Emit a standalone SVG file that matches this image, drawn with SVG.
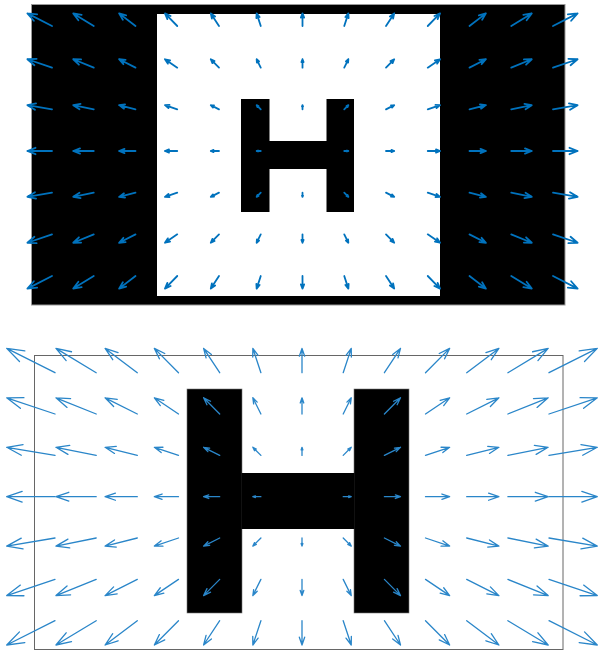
<svg xmlns="http://www.w3.org/2000/svg" xmlns:xlink="http://www.w3.org/1999/xlink" width="600" height="651" viewBox="0 0 600 651">
<style>
.ar{fill:none;stroke:#0072BD;stroke-linecap:round;stroke-linejoin:round;vector-effect:non-scaling-stroke}
#ta{stroke-width:1.8}
#ba{stroke-width:1.3;stroke:#2a86c9}
</style>
<defs>
<path id="ta" class="ar" d="M0,0H1M0.67,0.13L1,0L0.67,-0.13"/>
<path id="ba" class="ar" d="M0,0H1M0.68,0.11L1,0L0.68,-0.11"/>
</defs>
<rect width="600" height="651" fill="#fff"/>
<g id="top-panel">
<rect x="31.5" y="4.5" width="533.5" height="300.5" fill="#000" stroke="#999" stroke-width="1"/>
<rect x="157" y="14" width="283" height="282" fill="#fff"/>
<g id="top-H" fill="#000">
<rect x="241" y="99" width="28.5" height="113"/>
<rect x="326.5" y="99" width="27.5" height="113"/>
<rect x="269" y="141" width="58" height="28"/>
</g>
</g>
<g id="bottom-panel">
<rect x="34.5" y="355.5" width="528.5" height="294" fill="none" stroke="#666" stroke-width="1"/>
<g id="bottom-H" fill="#000" stroke="#777" stroke-width="0.6">
<rect x="187" y="389" width="55" height="224"/>
<rect x="354" y="389" width="55" height="224"/>
<rect x="241.5" y="473" width="113" height="56" stroke="none"/>
</g>
</g>
<g id="top-arrows">
<use href="#ta" transform="matrix(-24.6 -12.6 12.6 -24.6 52 26)"/>
<use href="#ta" transform="matrix(-20.5 -12.6 12.6 -20.5 93.75 26)"/>
<use href="#ta" transform="matrix(-16.4 -12.6 12.6 -16.4 135.5 26)"/>
<use href="#ta" transform="matrix(-12.3 -12.6 12.6 -12.3 177.25 26)"/>
<use href="#ta" transform="matrix(-8.2 -12.6 12.6 -8.2 219 26)"/>
<use href="#ta" transform="matrix(-4.1 -12.6 12.6 -4.1 260.75 26)"/>
<use href="#ta" transform="matrix(0 -12.6 12.6 0 302.5 26)"/>
<use href="#ta" transform="matrix(4.1 -12.6 12.6 4.1 344.25 26)"/>
<use href="#ta" transform="matrix(8.2 -12.6 12.6 8.2 386 26)"/>
<use href="#ta" transform="matrix(12.3 -12.6 12.6 12.3 427.75 26)"/>
<use href="#ta" transform="matrix(16.4 -12.6 12.6 16.4 469.5 26)"/>
<use href="#ta" transform="matrix(20.5 -12.6 12.6 20.5 511.25 26)"/>
<use href="#ta" transform="matrix(24.6 -12.6 12.6 24.6 553 26)"/>

<use href="#ta" transform="matrix(-24.6 -8.4 8.4 -24.6 52 67.67)"/>
<use href="#ta" transform="matrix(-20.5 -8.4 8.4 -20.5 93.75 67.67)"/>
<use href="#ta" transform="matrix(-16.4 -8.4 8.4 -16.4 135.5 67.67)"/>
<use href="#ta" transform="matrix(-12.3 -8.4 8.4 -12.3 177.25 67.67)"/>
<use href="#ta" transform="matrix(-8.2 -8.4 8.4 -8.2 219 67.67)"/>
<use href="#ta" transform="matrix(-4.1 -8.4 8.4 -4.1 260.75 67.67)"/>
<use href="#ta" transform="matrix(0 -8.4 8.4 0 302.5 67.67)"/>
<use href="#ta" transform="matrix(4.1 -8.4 8.4 4.1 344.25 67.67)"/>
<use href="#ta" transform="matrix(8.2 -8.4 8.4 8.2 386 67.67)"/>
<use href="#ta" transform="matrix(12.3 -8.4 8.4 12.3 427.75 67.67)"/>
<use href="#ta" transform="matrix(16.4 -8.4 8.4 16.4 469.5 67.67)"/>
<use href="#ta" transform="matrix(20.5 -8.4 8.4 20.5 511.25 67.67)"/>
<use href="#ta" transform="matrix(24.6 -8.4 8.4 24.6 553 67.67)"/>

<use href="#ta" transform="matrix(-24.6 -4.2 4.2 -24.6 52 109.33)"/>
<use href="#ta" transform="matrix(-20.5 -4.2 4.2 -20.5 93.75 109.33)"/>
<use href="#ta" transform="matrix(-16.4 -4.2 4.2 -16.4 135.5 109.33)"/>
<use href="#ta" transform="matrix(-12.3 -4.2 4.2 -12.3 177.25 109.33)"/>
<use href="#ta" transform="matrix(-8.2 -4.2 4.2 -8.2 219 109.33)"/>
<use href="#ta" transform="matrix(-4.1 -4.2 4.2 -4.1 260.75 109.33)"/>
<use href="#ta" transform="matrix(0 -4.2 4.2 0 302.5 109.33)"/>
<use href="#ta" transform="matrix(4.1 -4.2 4.2 4.1 344.25 109.33)"/>
<use href="#ta" transform="matrix(8.2 -4.2 4.2 8.2 386 109.33)"/>
<use href="#ta" transform="matrix(12.3 -4.2 4.2 12.3 427.75 109.33)"/>
<use href="#ta" transform="matrix(16.4 -4.2 4.2 16.4 469.5 109.33)"/>
<use href="#ta" transform="matrix(20.5 -4.2 4.2 20.5 511.25 109.33)"/>
<use href="#ta" transform="matrix(24.6 -4.2 4.2 24.6 553 109.33)"/>

<use href="#ta" transform="matrix(-24.6 0 0 -24.6 52 151)"/>
<use href="#ta" transform="matrix(-20.5 0 0 -20.5 93.75 151)"/>
<use href="#ta" transform="matrix(-16.4 0 0 -16.4 135.5 151)"/>
<use href="#ta" transform="matrix(-12.3 0 0 -12.3 177.25 151)"/>
<use href="#ta" transform="matrix(-8.2 0 0 -8.2 219 151)"/>
<use href="#ta" transform="matrix(-4.1 0 0 -4.1 260.75 151)"/>
<use href="#ta" transform="matrix(4.1 0 0 4.1 344.25 151)"/>
<use href="#ta" transform="matrix(8.2 0 0 8.2 386 151)"/>
<use href="#ta" transform="matrix(12.3 0 0 12.3 427.75 151)"/>
<use href="#ta" transform="matrix(16.4 0 0 16.4 469.5 151)"/>
<use href="#ta" transform="matrix(20.5 0 0 20.5 511.25 151)"/>
<use href="#ta" transform="matrix(24.6 0 0 24.6 553 151)"/>

<use href="#ta" transform="matrix(-24.6 4.2 -4.2 -24.6 52 192.67)"/>
<use href="#ta" transform="matrix(-20.5 4.2 -4.2 -20.5 93.75 192.67)"/>
<use href="#ta" transform="matrix(-16.4 4.2 -4.2 -16.4 135.5 192.67)"/>
<use href="#ta" transform="matrix(-12.3 4.2 -4.2 -12.3 177.25 192.67)"/>
<use href="#ta" transform="matrix(-8.2 4.2 -4.2 -8.2 219 192.67)"/>
<use href="#ta" transform="matrix(-4.1 4.2 -4.2 -4.1 260.75 192.67)"/>
<use href="#ta" transform="matrix(0 4.2 -4.2 0 302.5 192.67)"/>
<use href="#ta" transform="matrix(4.1 4.2 -4.2 4.1 344.25 192.67)"/>
<use href="#ta" transform="matrix(8.2 4.2 -4.2 8.2 386 192.67)"/>
<use href="#ta" transform="matrix(12.3 4.2 -4.2 12.3 427.75 192.67)"/>
<use href="#ta" transform="matrix(16.4 4.2 -4.2 16.4 469.5 192.67)"/>
<use href="#ta" transform="matrix(20.5 4.2 -4.2 20.5 511.25 192.67)"/>
<use href="#ta" transform="matrix(24.6 4.2 -4.2 24.6 553 192.67)"/>

<use href="#ta" transform="matrix(-24.6 8.4 -8.4 -24.6 52 234.33)"/>
<use href="#ta" transform="matrix(-20.5 8.4 -8.4 -20.5 93.75 234.33)"/>
<use href="#ta" transform="matrix(-16.4 8.4 -8.4 -16.4 135.5 234.33)"/>
<use href="#ta" transform="matrix(-12.3 8.4 -8.4 -12.3 177.25 234.33)"/>
<use href="#ta" transform="matrix(-8.2 8.4 -8.4 -8.2 219 234.33)"/>
<use href="#ta" transform="matrix(-4.1 8.4 -8.4 -4.1 260.75 234.33)"/>
<use href="#ta" transform="matrix(0 8.4 -8.4 0 302.5 234.33)"/>
<use href="#ta" transform="matrix(4.1 8.4 -8.4 4.1 344.25 234.33)"/>
<use href="#ta" transform="matrix(8.2 8.4 -8.4 8.2 386 234.33)"/>
<use href="#ta" transform="matrix(12.3 8.4 -8.4 12.3 427.75 234.33)"/>
<use href="#ta" transform="matrix(16.4 8.4 -8.4 16.4 469.5 234.33)"/>
<use href="#ta" transform="matrix(20.5 8.4 -8.4 20.5 511.25 234.33)"/>
<use href="#ta" transform="matrix(24.6 8.4 -8.4 24.6 553 234.33)"/>

<use href="#ta" transform="matrix(-24.6 12.6 -12.6 -24.6 52 276)"/>
<use href="#ta" transform="matrix(-20.5 12.6 -12.6 -20.5 93.75 276)"/>
<use href="#ta" transform="matrix(-16.4 12.6 -12.6 -16.4 135.5 276)"/>
<use href="#ta" transform="matrix(-12.3 12.6 -12.6 -12.3 177.25 276)"/>
<use href="#ta" transform="matrix(-8.2 12.6 -12.6 -8.2 219 276)"/>
<use href="#ta" transform="matrix(-4.1 12.6 -12.6 -4.1 260.75 276)"/>
<use href="#ta" transform="matrix(0 12.6 -12.6 0 302.5 276)"/>
<use href="#ta" transform="matrix(4.1 12.6 -12.6 4.1 344.25 276)"/>
<use href="#ta" transform="matrix(8.2 12.6 -12.6 8.2 386 276)"/>
<use href="#ta" transform="matrix(12.3 12.6 -12.6 12.3 427.75 276)"/>
<use href="#ta" transform="matrix(16.4 12.6 -12.6 16.4 469.5 276)"/>
<use href="#ta" transform="matrix(20.5 12.6 -12.6 20.5 511.25 276)"/>
<use href="#ta" transform="matrix(24.6 12.6 -12.6 24.6 553 276)"/>
</g>
<g id="bottom-arrows">
<use href="#ba" transform="matrix(-48.3 -24.3 24.3 -48.3 55 372.7)"/>
<use href="#ba" transform="matrix(-40.25 -24.3 24.3 -40.25 96.2 372.7)"/>
<use href="#ba" transform="matrix(-32.2 -24.3 24.3 -32.2 137.3 372.7)"/>
<use href="#ba" transform="matrix(-24.15 -24.3 24.3 -24.15 178.5 372.7)"/>
<use href="#ba" transform="matrix(-16.1 -24.3 24.3 -16.1 219.7 372.7)"/>
<use href="#ba" transform="matrix(-8.05 -24.3 24.3 -8.05 260.9 372.7)"/>
<use href="#ba" transform="matrix(0 -24.3 24.3 0 302 372.7)"/>
<use href="#ba" transform="matrix(8.05 -24.3 24.3 8.05 343.2 372.7)"/>
<use href="#ba" transform="matrix(16.1 -24.3 24.3 16.1 384.4 372.7)"/>
<use href="#ba" transform="matrix(24.15 -24.3 24.3 24.15 425.5 372.7)"/>
<use href="#ba" transform="matrix(32.2 -24.3 24.3 32.2 466.7 372.7)"/>
<use href="#ba" transform="matrix(40.25 -24.3 24.3 40.25 507.9 372.7)"/>
<use href="#ba" transform="matrix(48.3 -24.3 24.3 48.3 549 372.7)"/>

<use href="#ba" transform="matrix(-48.3 -16.2 16.2 -48.3 55 414)"/>
<use href="#ba" transform="matrix(-40.25 -16.2 16.2 -40.25 96.2 414)"/>
<use href="#ba" transform="matrix(-32.2 -16.2 16.2 -32.2 137.3 414)"/>
<use href="#ba" transform="matrix(-24.15 -16.2 16.2 -24.15 178.5 414)"/>
<use href="#ba" transform="matrix(-16.1 -16.2 16.2 -16.1 219.7 414)"/>
<use href="#ba" transform="matrix(-8.05 -16.2 16.2 -8.05 260.9 414)"/>
<use href="#ba" transform="matrix(0 -16.2 16.2 0 302 414)"/>
<use href="#ba" transform="matrix(8.05 -16.2 16.2 8.05 343.2 414)"/>
<use href="#ba" transform="matrix(16.1 -16.2 16.2 16.1 384.4 414)"/>
<use href="#ba" transform="matrix(24.15 -16.2 16.2 24.15 425.5 414)"/>
<use href="#ba" transform="matrix(32.2 -16.2 16.2 32.2 466.7 414)"/>
<use href="#ba" transform="matrix(40.25 -16.2 16.2 40.25 507.9 414)"/>
<use href="#ba" transform="matrix(48.3 -16.2 16.2 48.3 549 414)"/>

<use href="#ba" transform="matrix(-48.3 -8.1 8.1 -48.3 55 455.4)"/>
<use href="#ba" transform="matrix(-40.25 -8.1 8.1 -40.25 96.2 455.4)"/>
<use href="#ba" transform="matrix(-32.2 -8.1 8.1 -32.2 137.3 455.4)"/>
<use href="#ba" transform="matrix(-24.15 -8.1 8.1 -24.15 178.5 455.4)"/>
<use href="#ba" transform="matrix(-16.1 -8.1 8.1 -16.1 219.7 455.4)"/>
<use href="#ba" transform="matrix(-8.05 -8.1 8.1 -8.05 260.9 455.4)"/>
<use href="#ba" transform="matrix(0 -8.1 8.1 0 302 455.4)"/>
<use href="#ba" transform="matrix(8.05 -8.1 8.1 8.05 343.2 455.4)"/>
<use href="#ba" transform="matrix(16.1 -8.1 8.1 16.1 384.4 455.4)"/>
<use href="#ba" transform="matrix(24.15 -8.1 8.1 24.15 425.5 455.4)"/>
<use href="#ba" transform="matrix(32.2 -8.1 8.1 32.2 466.7 455.4)"/>
<use href="#ba" transform="matrix(40.25 -8.1 8.1 40.25 507.9 455.4)"/>
<use href="#ba" transform="matrix(48.3 -8.1 8.1 48.3 549 455.4)"/>

<use href="#ba" transform="matrix(-48.3 0 0 -48.3 55 496.7)"/>
<use href="#ba" transform="matrix(-40.25 0 0 -40.25 96.2 496.7)"/>
<use href="#ba" transform="matrix(-32.2 0 0 -32.2 137.3 496.7)"/>
<use href="#ba" transform="matrix(-24.15 0 0 -24.15 178.5 496.7)"/>
<use href="#ba" transform="matrix(-16.1 0 0 -16.1 219.7 496.7)"/>
<use href="#ba" transform="matrix(-8.05 0 0 -8.05 260.9 496.7)"/>
<use href="#ba" transform="matrix(8.05 0 0 8.05 343.2 496.7)"/>
<use href="#ba" transform="matrix(16.1 0 0 16.1 384.4 496.7)"/>
<use href="#ba" transform="matrix(24.15 0 0 24.15 425.5 496.7)"/>
<use href="#ba" transform="matrix(32.2 0 0 32.2 466.7 496.7)"/>
<use href="#ba" transform="matrix(40.25 0 0 40.25 507.9 496.7)"/>
<use href="#ba" transform="matrix(48.3 0 0 48.3 549 496.7)"/>

<use href="#ba" transform="matrix(-48.3 8.1 -8.1 -48.3 55 538)"/>
<use href="#ba" transform="matrix(-40.25 8.1 -8.1 -40.25 96.2 538)"/>
<use href="#ba" transform="matrix(-32.2 8.1 -8.1 -32.2 137.3 538)"/>
<use href="#ba" transform="matrix(-24.15 8.1 -8.1 -24.15 178.5 538)"/>
<use href="#ba" transform="matrix(-16.1 8.1 -8.1 -16.1 219.7 538)"/>
<use href="#ba" transform="matrix(-8.05 8.1 -8.1 -8.05 260.9 538)"/>
<use href="#ba" transform="matrix(0 8.1 -8.1 0 302 538)"/>
<use href="#ba" transform="matrix(8.05 8.1 -8.1 8.05 343.2 538)"/>
<use href="#ba" transform="matrix(16.1 8.1 -8.1 16.1 384.4 538)"/>
<use href="#ba" transform="matrix(24.15 8.1 -8.1 24.15 425.5 538)"/>
<use href="#ba" transform="matrix(32.2 8.1 -8.1 32.2 466.7 538)"/>
<use href="#ba" transform="matrix(40.25 8.1 -8.1 40.25 507.9 538)"/>
<use href="#ba" transform="matrix(48.3 8.1 -8.1 48.3 549 538)"/>

<use href="#ba" transform="matrix(-48.3 16.2 -16.2 -48.3 55 579.4)"/>
<use href="#ba" transform="matrix(-40.25 16.2 -16.2 -40.25 96.2 579.4)"/>
<use href="#ba" transform="matrix(-32.2 16.2 -16.2 -32.2 137.3 579.4)"/>
<use href="#ba" transform="matrix(-24.15 16.2 -16.2 -24.15 178.5 579.4)"/>
<use href="#ba" transform="matrix(-16.1 16.2 -16.2 -16.1 219.7 579.4)"/>
<use href="#ba" transform="matrix(-8.05 16.2 -16.2 -8.05 260.9 579.4)"/>
<use href="#ba" transform="matrix(0 16.2 -16.2 0 302 579.4)"/>
<use href="#ba" transform="matrix(8.05 16.2 -16.2 8.05 343.2 579.4)"/>
<use href="#ba" transform="matrix(16.1 16.2 -16.2 16.1 384.4 579.4)"/>
<use href="#ba" transform="matrix(24.15 16.2 -16.2 24.15 425.5 579.4)"/>
<use href="#ba" transform="matrix(32.2 16.2 -16.2 32.2 466.7 579.4)"/>
<use href="#ba" transform="matrix(40.25 16.2 -16.2 40.25 507.9 579.4)"/>
<use href="#ba" transform="matrix(48.3 16.2 -16.2 48.3 549 579.4)"/>

<use href="#ba" transform="matrix(-48.3 24.3 -24.3 -48.3 55 620.7)"/>
<use href="#ba" transform="matrix(-40.25 24.3 -24.3 -40.25 96.2 620.7)"/>
<use href="#ba" transform="matrix(-32.2 24.3 -24.3 -32.2 137.3 620.7)"/>
<use href="#ba" transform="matrix(-24.15 24.3 -24.3 -24.15 178.5 620.7)"/>
<use href="#ba" transform="matrix(-16.1 24.3 -24.3 -16.1 219.7 620.7)"/>
<use href="#ba" transform="matrix(-8.05 24.3 -24.3 -8.05 260.9 620.7)"/>
<use href="#ba" transform="matrix(0 24.3 -24.3 0 302 620.7)"/>
<use href="#ba" transform="matrix(8.05 24.3 -24.3 8.05 343.2 620.7)"/>
<use href="#ba" transform="matrix(16.1 24.3 -24.3 16.1 384.4 620.7)"/>
<use href="#ba" transform="matrix(24.15 24.3 -24.3 24.15 425.5 620.7)"/>
<use href="#ba" transform="matrix(32.2 24.3 -24.3 32.2 466.7 620.7)"/>
<use href="#ba" transform="matrix(40.25 24.3 -24.3 40.25 507.9 620.7)"/>
<use href="#ba" transform="matrix(48.3 24.3 -24.3 48.3 549 620.7)"/>
</g>
</svg>
